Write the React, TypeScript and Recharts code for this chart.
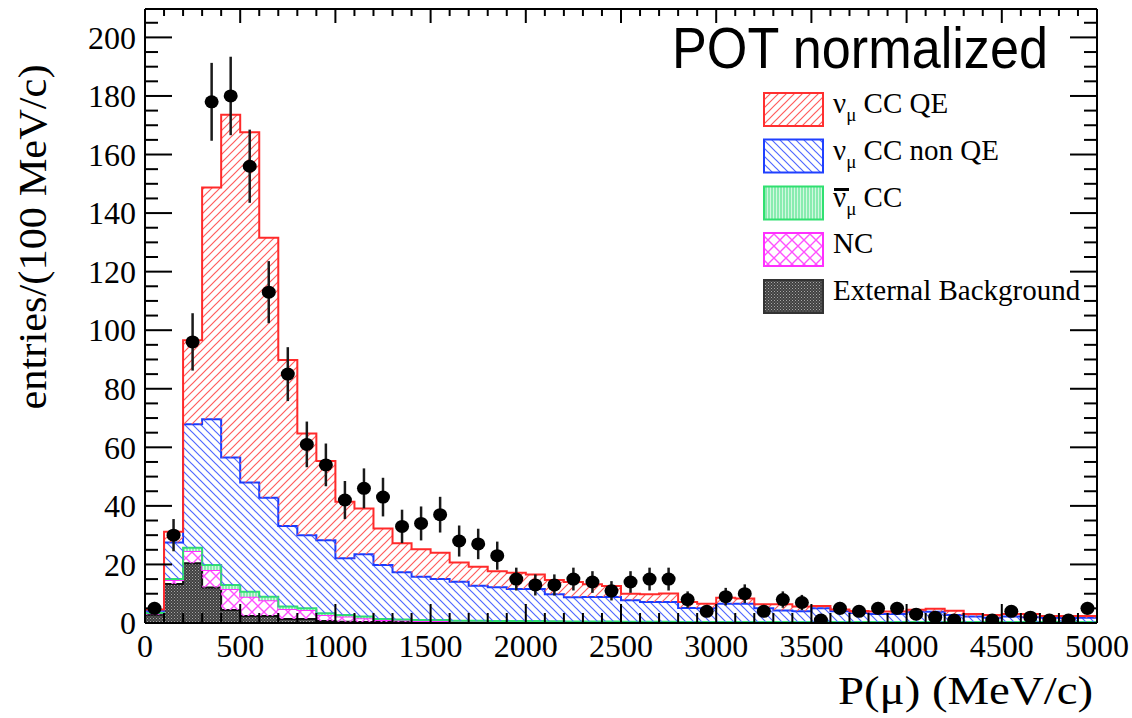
import React from 'react';
import { ComposedChart, Area, Scatter, ErrorBar, XAxis, YAxis } from 'recharts';

const W = 1132;
const H = 718;
const SERIF = '"Liberation Serif", "Times New Roman", serif';
const SANS = '"Liberation Sans", Arial, sans-serif';

// 50 bins of 100 MeV/c between 0 and 5000 MeV/c
const binLow = Array.from({ length: 50 }, (_, i) => i * 100);

// Stacked MC components, entries per bin (bottom of the stack first)
const extBkg = [
  2.8, 13.3, 20.4, 12.1, 4.4, 2.4, 2.4, 1.4, 1.4, 0.7,
  0.4, 0.3, 0.3, 0.3, 0.2, 0.2, 0.2, 0.2, 0.2, 0.2,
  0.2, 0.1, 0.1, 0.1, 0.1, 0.1, 0.1, 0.1, 0.1, 0.1,
  0.1, 0.1, 0.1, 0.1, 0.1, 0.1, 0.1, 0.1, 0.1, 0.1,
  0.1, 0.1, 0.1, 0.1, 0.1, 0.1, 0.1, 0.1, 0.1, 0.1,
];
const ncBkg = [
  0.5, 1.4, 4.2, 6.0, 7.2, 6.6, 5.4, 3.4, 3.0, 2.0,
  1.8, 1.3, 0.7, 0.6, 0.5, 0.5, 0.4, 0.4, 0.3, 0.3,
  0.3, 0.3, 0.2, 0.2, 0.2, 0.2, 0.2, 0.2, 0.1, 0.1,
  0.1, 0.1, 0.1, 0.1, 0.1, 0.1, 0.1, 0.1, 0.1, 0.1,
  0.1, 0.1, 0.1, 0.1, 0.1, 0.1, 0.1, 0.1, 0.1, 0.1,
];
const antiNuCC = [
  0.1, 0.3, 1.1, 1.7, 1.4, 1.7, 1.2, 0.8, 0.6, 0.6,
  0.5, 0.6, 0.4, 0.3, 0.3, 0.3, 0.2, 0.2, 0.2, 0.2,
  0.2, 0.2, 0.2, 0.2, 0.2, 0.1, 0.1, 0.1, 0.1, 0.1,
  0.1, 0.1, 0.1, 0.1, 0.1, 0.1, 0.1, 0.1, 0.1, 0.1,
  0.1, 0.1, 0.1, 0.1, 0.1, 0.1, 0.1, 0.1, 0.1, 0.1,
];
const nuCCnonQE = [
  0.8, 12.5, 42.2, 49.8, 43.5, 37.3, 33.8, 27.5, 25.0, 25.0,
  19.4, 21.3, 18.4, 16.1, 14.8, 14.0, 13.3, 11.9, 11.5, 10.9,
  10.9, 9.2, 8.3, 8.4, 8.4, 7.4, 6.8, 6.8, 4.8, 4.7,
  6.3, 6.3, 4.7, 4.0, 3.7, 4.7, 3.7, 3.1, 2.8, 2.8,
  3.6, 3.5, 2.4, 1.9, 1.5, 1.9, 1.7, 1.5, 1.4, 1.5,
];
const nuCCQE = [
  0.4, 3.7, 28.7, 79.1, 117.1, 119.6, 88.8, 56.7, 34.7, 27.0,
  19.3, 15.6, 12.5, 9.9, 9.4, 9.0, 6.6, 6.5, 5.5, 5.6,
  5.0, 4.9, 5.2, 4.3, 3.7, 2.2, 2.6, 2.9, 2.1, 1.6,
  2.0, 1.8, 1.4, 2.1, 1.6, 0.8, 0.6, 0.7, 0.8, 0.8,
  0.6, 1.1, 1.5, 0.9, 0.9, 0.9, 1.1, 0.6, 0.7, 0.6,
];

// Data entries and their statistical errors (empty bin = null)
const dataCounts: (number | null)[] = [
  5, 30, 96, 178, 180, 156, 113, 85, 61, 54,
  42, 46, 43, 33, 34, 37, 28, 27, 23, 15,
  13, 13, 15, 14, 11, 14, 15, 15, 8, 4,
  9, 10, 4, 8, 7, 1, 5, 4, 5, 5,
  3, 2, 1, null, 1, 4, 2, 1, 1, 5,
];
const dataErr = [
  2.2, 5.5, 9.8, 13.3, 13.4, 12.5, 10.6, 9.2, 7.8, 7.3,
  6.5, 6.8, 6.6, 5.7, 5.8, 6.1, 5.3, 5.2, 4.8, 3.9,
  3.6, 3.6, 3.9, 3.7, 3.3, 3.7, 3.9, 3.9, 2.8, 2.0,
  3.0, 3.2, 2.0, 2.8, 2.6, 1.0, 2.2, 2.0, 2.2, 2.2,
  1.7, 1.4, 1.0, 0, 1.0, 2.0, 1.4, 1.0, 1.0, 2.2,
];

const xTicks = Array.from({ length: 51 }, (_, i) => i * 100);
const yTicks = Array.from({ length: 42 }, (_, i) => i * 5);
const X_DOMAIN: [number, number] = [0, 5000];
const Y_DOMAIN: [number, number] = [0, 209.7];

const legendItems = [
  { key: 'qe', label: 'CC QE', nu: true, bar: false, fill: 'url(#hatchQE)', stroke: '#ff3030' },
  { key: 'nonqe', label: 'CC non QE', nu: true, bar: false, fill: 'url(#hatchNonQE)', stroke: '#2040ff' },
  { key: 'anti', label: 'CC', nu: true, bar: true, fill: 'url(#hatchAnti)', stroke: '#30e070' },
  { key: 'nc', label: 'NC', nu: false, bar: false, fill: 'url(#hatchNC)', stroke: '#ff30ff' },
  { key: 'ext', label: 'External Background', nu: false, bar: false, fill: 'url(#stippleExt)', stroke: '#333' },
];

// step histogram rows: one per lower bin edge plus the closing edge
const stackRows = [...binLow, 5000].map((x, i) => {
  const k = Math.min(i, binLow.length - 1);
  return { x, ext: extBkg[k], nc: ncBkg[k], anti: antiNuCC[k], nonqe: nuCCnonQE[k], qe: nuCCQE[k] };
});

const points = dataCounts
  .map((y, i) => ({ x: binLow[i] + 50, y, err: dataErr[i] }))
  .filter((p) => p.y !== null);

function BottomTick(props: any) {
  const { x, y, payload } = props;
  const v = payload.value;
  const major = v % 500 === 0;
  return (
    <g>
      <line x1={x} x2={x} y1={y} y2={y - (major ? 19 : 10)} stroke="#000" strokeWidth={2} />
      {major && (
        <text x={x} y={y + 34} textAnchor="middle" fontFamily={SERIF} fontSize={32} fill="#000">
          {v}
        </text>
      )}
    </g>
  );
}

function TopTick(props: any) {
  const { x, y, payload } = props;
  const major = payload.value % 500 === 0;
  return <line x1={x} x2={x} y1={y} y2={y + (major ? 14 : 7)} stroke="#000" strokeWidth={2} />;
}

function LeftTick(props: any) {
  const { x, y, payload } = props;
  const v = payload.value;
  const major = v % 20 === 0;
  return (
    <g>
      <line x1={x} x2={x + (major ? 27 : 13)} y1={y} y2={y} stroke="#000" strokeWidth={2} />
      {major && (
        <text x={x - 9} y={y} dy="0.35em" textAnchor="end" fontFamily={SERIF} fontSize={32} fill="#000">
          {v}
        </text>
      )}
    </g>
  );
}

function RightTick(props: any) {
  const { x, y, payload } = props;
  const major = payload.value % 20 === 0;
  return <line x1={x} x2={x - (major ? 27 : 13)} y1={y} y2={y} stroke="#000" strokeWidth={2} />;
}

function DataMarker(props: any) {
  const { cx, cy } = props;
  return <ellipse cx={cx} cy={cy} rx={7} ry={6.5} fill="#000" />;
}

function Patterns() {
  return (
    <svg width={0} height={0} style={{ position: 'absolute' }}>
      <defs>
        <pattern id="hatchQE" width={8} height={8} patternUnits="userSpaceOnUse">
          <path d="M0,8 L8,0 M-2,2 L2,-2 M6,10 L10,6" stroke="#ff5c5c" strokeWidth={1.2} />
        </pattern>
        <pattern id="hatchNonQE" width={8} height={8} patternUnits="userSpaceOnUse">
          <path d="M0,0 L8,8 M-2,6 L2,10 M6,-2 L10,2" stroke="#5068ff" strokeWidth={1.2} />
        </pattern>
        <pattern id="hatchAnti" width={3} height={3} patternUnits="userSpaceOnUse">
          <rect width={3} height={3} fill="#d2f8e0" />
          <line x1={1} y1={0} x2={1} y2={3} stroke="#40e080" strokeWidth={1} />
        </pattern>
        <pattern id="hatchNC" width={12} height={12} patternUnits="userSpaceOnUse">
          <path d="M0,0 L12,12 M12,0 L0,12" stroke="#ff50ff" strokeWidth={1.4} />
        </pattern>
        <pattern id="stippleExt" width={3} height={3} patternUnits="userSpaceOnUse">
          <rect width={3} height={3} fill="#404040" />
          <rect x={0} y={0} width={1} height={1} fill="#a8a8a8" />
          <rect x={1.5} y={1.5} width={1} height={1} fill="#8a8a8a" />
        </pattern>
      </defs>
    </svg>
  );
}

function Overlay() {
  const boxX = 764;
  const rowTop = [93, 139.5, 186.5, 233, 280];
  return (
    <svg width={W} height={H} style={{ position: 'absolute', left: 0, top: 0, pointerEvents: 'none' }}>
      <text x={672} y={68} fontFamily={SANS} fontSize={58} textLength={376} lengthAdjust="spacingAndGlyphs" fill="#000">
        POT normalized
      </text>
      {legendItems.map((it, i) => {
        const top = rowTop[i];
        return (
          <g key={it.key}>
            <rect x={boxX} y={top} width={59} height={33} fill="#fff" />
            <rect x={boxX} y={top} width={59} height={33} fill={it.fill} stroke={it.stroke} strokeWidth={2} />
            <text x={833} y={top + 20} fontFamily={SERIF} fontSize={29} fill="#000">
              {it.nu ? (
                <>
                  <tspan>ν</tspan>
                  <tspan fontSize={19} dy={8}>μ</tspan>
                  <tspan dy={-8}>{' ' + it.label}</tspan>
                </>
              ) : (
                it.label
              )}
            </text>
            {it.bar && <line x1={834} x2={849} y1={top + 3} y2={top + 3} stroke="#000" strokeWidth={3} />}
          </g>
        );
      })}
      <text
        x={46}
        y={237}
        transform="rotate(-90 46 237)"
        textAnchor="middle"
        fontFamily={SERIF}
        fontSize={40}
        textLength={345}
        lengthAdjust="spacingAndGlyphs"
        fill="#000"
      >
        entries/(100 MeV/c)
      </text>
      <text
        x={1093}
        y={704}
        textAnchor="end"
        fontFamily={SERIF}
        fontSize={40}
        textLength={255}
        lengthAdjust="spacingAndGlyphs"
        fill="#000"
      >
        P(μ) (MeV/c)
      </text>
    </svg>
  );
}

export default function App() {
  return (
    <div style={{ position: 'absolute', left: 0, top: 0, width: W, height: H, background: '#fff' }}>
      <Patterns />
      <ComposedChart
        width={W}
        height={H}
        data={stackRows}
        margin={{ top: 8, right: 34, bottom: 94, left: 144 }}
      >
        <XAxis
          xAxisId={0}
          dataKey="x"
          type="number"
          domain={X_DOMAIN}
          ticks={xTicks}
          interval={0}
          allowDataOverflow
          height={1}
          tickSize={0}
          tickMargin={0}
          tickLine={false}
          axisLine={{ stroke: '#000', strokeWidth: 2 }}
          tick={(p: any) => <BottomTick {...p} />}
        />
        <XAxis
          xAxisId="top"
          orientation="top"
          dataKey="x"
          type="number"
          domain={X_DOMAIN}
          ticks={xTicks}
          interval={0}
          allowDataOverflow
          height={1}
          tickSize={0}
          tickMargin={0}
          tickLine={false}
          axisLine={{ stroke: '#000', strokeWidth: 2 }}
          tick={(p: any) => <TopTick {...p} />}
        />
        <YAxis
          yAxisId={0}
          type="number"
          domain={Y_DOMAIN}
          ticks={yTicks}
          interval={0}
          allowDataOverflow
          width={1}
          tickSize={0}
          tickMargin={0}
          tickLine={false}
          axisLine={{ stroke: '#000', strokeWidth: 2 }}
          tick={(p: any) => <LeftTick {...p} />}
        />
        <YAxis
          yAxisId="right"
          orientation="right"
          type="number"
          domain={Y_DOMAIN}
          ticks={yTicks}
          interval={0}
          allowDataOverflow
          width={1}
          tickSize={0}
          tickMargin={0}
          tickLine={false}
          axisLine={{ stroke: '#000', strokeWidth: 2 }}
          tick={(p: any) => <RightTick {...p} />}
        />
        <Area type="stepAfter" dataKey="ext" stackId="mc" fill="url(#stippleExt)" fillOpacity={1} stroke="#111" strokeWidth={2} isAnimationActive={false} />
        <Area type="stepAfter" dataKey="nc" stackId="mc" fill="url(#hatchNC)" fillOpacity={1} stroke="#ff30ff" strokeWidth={2} isAnimationActive={false} />
        <Area type="stepAfter" dataKey="anti" stackId="mc" fill="url(#hatchAnti)" fillOpacity={1} stroke="#30e070" strokeWidth={2} isAnimationActive={false} />
        <Area type="stepAfter" dataKey="nonqe" stackId="mc" fill="url(#hatchNonQE)" fillOpacity={1} stroke="#1a3cff" strokeWidth={2} isAnimationActive={false} />
        <Area type="stepAfter" dataKey="qe" stackId="mc" fill="url(#hatchQE)" fillOpacity={1} stroke="#ff2a2a" strokeWidth={2} isAnimationActive={false} />
        <Scatter data={points} dataKey="y" fill="#000" shape={(p: any) => <DataMarker {...p} />} isAnimationActive={false}>
          <ErrorBar dataKey="err" direction="y" width={0} stroke="#1a1a1a" strokeWidth={2.5} />
        </Scatter>
      </ComposedChart>
      <Overlay />
    </div>
  );
}
